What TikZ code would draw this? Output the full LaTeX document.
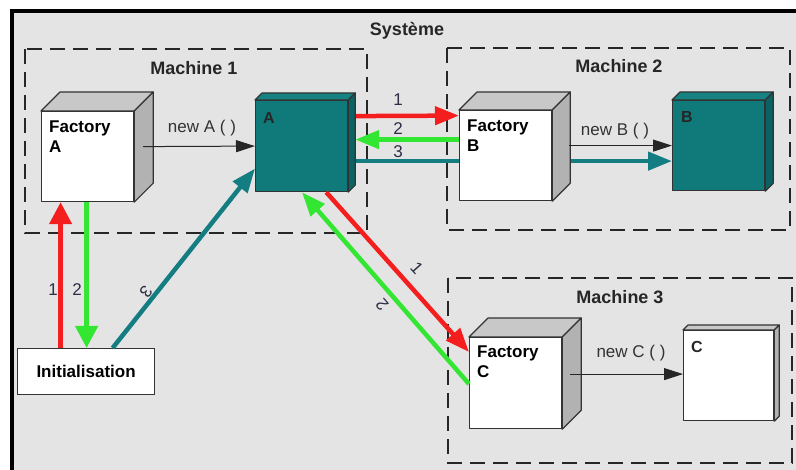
\documentclass[tikz,border=0pt]{standalone}
\usepackage{fontspec}
\setmainfont{Liberation Sans}
\usetikzlibrary{arrows.meta}
\definecolor{bg}{RGB}{228,228,228}
\definecolor{ared}{RGB}{245,30,30}
\definecolor{agreen}{RGB}{50,230,50}
\definecolor{ateal}{RGB}{20,125,130}
\definecolor{cteal}{RGB}{16,122,122}
\definecolor{ctealtop}{RGB}{22,130,130}
\definecolor{cteald}{RGB}{10,98,98}
\definecolor{ctop}{RGB}{200,200,200}
\definecolor{cside}{RGB}{178,178,178}
\definecolor{lbl}{RGB}{45,45,70}
\newcommand\cubefaces[4]{%
  \filldraw[cubeedge, fill=#3] (#1.north west) -- ++(#2,-#2) -- ([xshift=#2pt,yshift=#2pt]#1.north east) -- (#1.north east) -- cycle;
  \filldraw[cubeedge, fill=#4] (#1.north east) -- ++(#2,-#2) -- ([xshift=#2pt,yshift=#2pt]#1.south east) -- (#1.south east) -- cycle;
}
\begin{document}
\begin{tikzpicture}[x=1pt,y=-1pt,
  cubeedge/.style={draw=black!80, line width=1.2, line join=round},
  face/.style={cubeedge, minimum width=92, minimum height=90, inner sep=0, anchor=north west},
  cubetext/.style={font=\bfseries\fontsize{17}{20}\selectfont, align=left, anchor=north west, inner sep=0},
  objtext/.style={font=\bfseries\fontsize{16}{20}\selectfont, anchor=north west, inner sep=0},
  flow/.style={line width=4.5, -{Triangle[length=24pt,width=18pt]}},
  flowv/.style={line width=4.5, -{Triangle[length=22pt,width=22pt]}},
  call/.style={line width=1, draw=black!85, -{Triangle[length=19pt,width=12pt]}},
  num/.style={font=\fontsize{17}{20}\selectfont, text=lbl, inner sep=1},
  calltext/.style={font=\fontsize{17}{20}\selectfont, text=black!80, inner sep=1},
  mlabel/.style={font=\bfseries\fontsize{18}{20}\selectfont, text=black!85},
  machine/.style={draw=black!85, line width=2.3, dash pattern=on 15pt off 8pt}
]
\clip (0,0) rectangle (796,470);
\fill[white] (0,0) rectangle (796,470);
\fill[bg] (12,11) rectangle (810,480);
\draw[line width=3.5] (12,485) -- (12,11) -- (810,11);
\node[mlabel] (sys) at (407,31) {Système};

% machines
\draw[machine] (25,49) rectangle (367,233);
\node[mlabel] (m1) at (194,68) {Machine 1};
\draw[machine] (447,48) rectangle (790,230);
\node[mlabel] (m2) at (619,66) {Machine 2};
\draw[machine] (448,278) rectangle (792,463);
\node[mlabel] (m3) at (620,297) {Machine 3};

% object A and B (teal) first
\node[face, fill=cteal, minimum height=91] (oa) at (255,100) {};
\cubefaces{oa}{7}{ctealtop}{cteald}
\node[objtext, text=black!85] (oat) at (263,112) {A};
\node[face, fill=cteal] (ob) at (672,100) {};
\cubefaces{ob}{8}{ctealtop}{cteald}
\node[objtext, text=black!85] (obt) at (681,111) {B};

% teal 3 : A -> B, behind factory B
\draw[flow, draw=ateal] ([xshift=8pt,yshift=-15pt]oa.east) -- ([yshift=-15.5pt]ob.west);

% factories
\node[face, fill=white] (fa) at (41,111) {};
\cubefaces{fa}{19}{ctop}{cside}
\node[cubetext] (fat) at (49,121) {Factory\\A};
\node[face, fill=white] (fb) at (459,110) {};
\cubefaces{fb}{18}{ctop}{cside}
\node[cubetext] (fbt) at (467,120) {Factory\\B};
\node[face, fill=white, minimum height=91] (fc) at (469,337) {};
\cubefaces{fc}{19}{ctop}{cside}
\node[cubetext] (fct) at (477,346) {Factory\\C};
\node[face, fill=white, minimum width=90] (oc) at (683,330) {};
\cubefaces{oc}{5}{ctop}{cside}
\node[objtext, text=black!85] (oct) at (691,341) {C};

% initialisation
\node[draw=black!80, line width=1.2, fill=white, minimum width=137, minimum height=46, inner sep=0,
      font=\bfseries\fontsize{17}{20}\selectfont, anchor=north west] (init) at (17,348) {Initialisation};

% constructor calls
\draw[call] ([xshift=9pt,yshift=10pt]fa.east) -- (oa.west);
\node[calltext] (na) at (202,128) {new A ( )};
\draw[call] ([xshift=17pt,yshift=10pt]fb.east) -- (ob.west);
\node[calltext] (nb) at (615,131) {new B ( )};
\draw[call] ([xshift=8pt,yshift=9pt]fc.east) -- ([yshift=1.5pt]oc.west);
\node[calltext] (nc) at (631,353) {new C ( )};

% A <-> Factory B
\draw[flow, draw=ared] ([xshift=8pt,yshift=30pt]oa.east) -- ([yshift=40pt]fb.west);
\draw[flow, draw=agreen] ([yshift=16pt]fb.west) -- ([xshift=7pt,yshift=6.5pt]oa.east);
\node[num] (n1ab) at (398,100) {1};
\node[num] (n2ab) at (398,129) {2};
\node[num] (n3ab) at (398,152) {3};

% Factory A <-> Initialisation
\draw[flowv, draw=ared] ([xshift=-25.5pt]init.north) -- ([xshift=-27pt]fa.south);
\draw[flowv, draw=agreen] ([xshift=-1pt]fa.south) -- ([xshift=0.5pt]init.north);
\node[num] (n1i) at (53,290) {1};
\node[num] (n2i) at (77,290) {2};

% Initialisation -> A
\draw[flow, draw=ateal] ([xshift=26.5pt]init.north) -- ([yshift=-22.5pt]oa.west);
\node[num, rotate=-128.5] (n3i) at (146,292) {3};

% A <-> Factory C
\draw[flow, draw=ared] ([xshift=-22pt]oa.south east) -- ([yshift=-15pt]fc.north west);
\draw[flow, draw=agreen] ([yshift=-47pt]fc.north west) -- ([xshift=47pt]oa.south west);
\node[num, rotate=-48] (n1c) at (417,268) {1};
\node[num, rotate=131] (n2c) at (382,305) {2};
\end{tikzpicture}
\end{document}
